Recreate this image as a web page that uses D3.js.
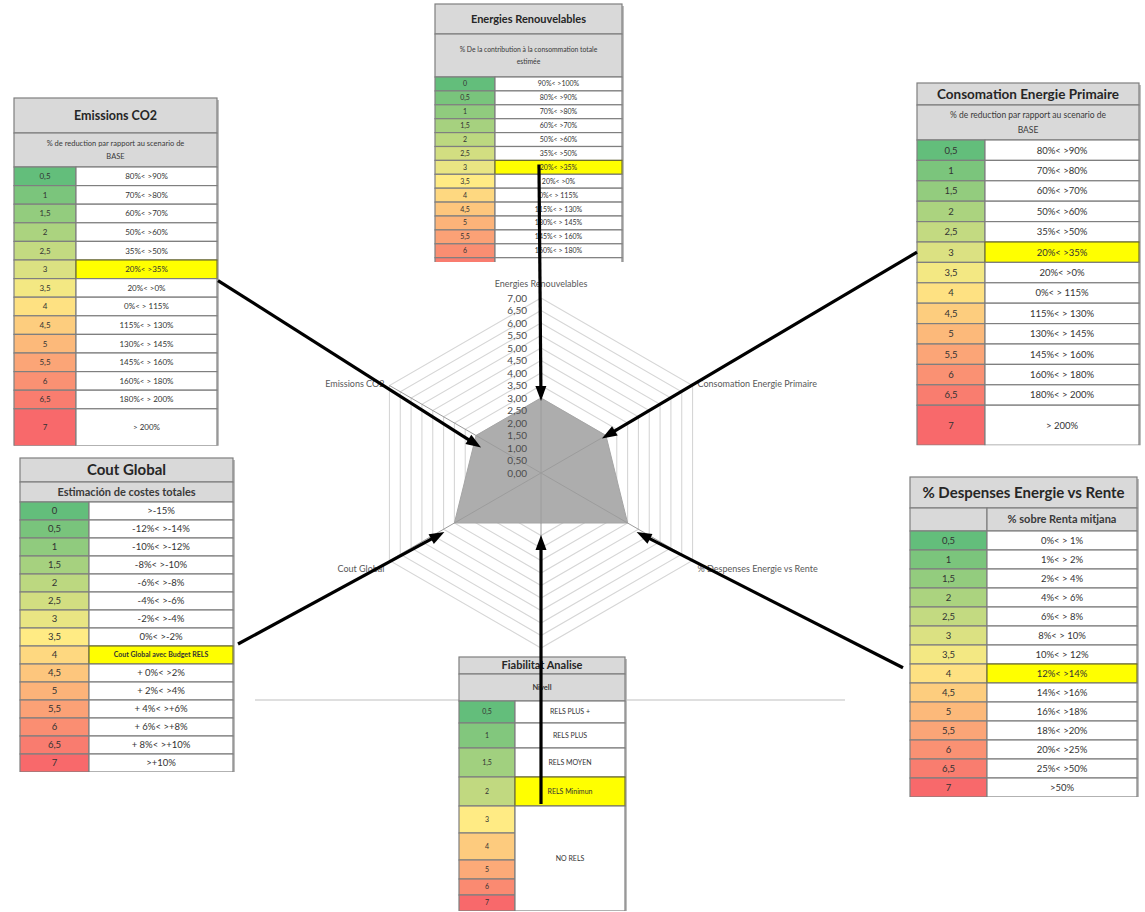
<!DOCTYPE html>
<html>
<head>
<meta charset="utf-8">
<script src="https://cdn.jsdelivr.net/npm/d3@7"></script>
<style>
  html, body { margin: 0; padding: 0; background: #ffffff; }
  svg { display: block; font-family: Lato, "Open Sans", "Liberation Sans", sans-serif; }
</style>
</head>
<body>
<svg id="chart" width="1145" height="912"></svg>
<script>
// ---- Radar axes, clockwise from the top ----
const axisNames = [
  "Energies Renouvelables",
  "Consomation Energie Primaire",
  "% Despenses Energie vs Rente",
  "Fiabilitat Analise",
  "Cout Global",
  "Emissions CO2"
];
const axisScores = [3, 3, 4, 2, 4, 3];
const radarTicks = [0, 0.5, 1, 1.5, 2, 2.5, 3, 3.5, 4, 4.5, 5, 5.5, 6, 6.5, 7];

// ---- Scoring grids, one per axis ----
const energiesScores = [0, 0.5, 1, 1.5, 2, 2.5, 3, 3.5, 4, 4.5, 5, 5.5, 6, 6.5, 7];
const energiesRanges = ["90%< >100%", "80%< >90%", "70%< >80%", "60%< >70%", "50%< >60%", "35%< >50%",
  "20%< >35%", "20%< >0%", "0%< > 115%", "115%< > 130%", "130%< > 145%", "145%< > 160%",
  "160%< > 180%", "180%< > 200%", "> 200%"];

const emissionsScores = [0.5, 1, 1.5, 2, 2.5, 3, 3.5, 4, 4.5, 5, 5.5, 6, 6.5, 7];
const emissionsRanges = ["80%< >90%", "70%< >80%", "60%< >70%", "50%< >60%", "35%< >50%", "20%< >35%",
  "20%< >0%", "0%< > 115%", "115%< > 130%", "130%< > 145%", "145%< > 160%", "160%< > 180%",
  "180%< > 200%", "> 200%"];

const consoScores = [0.5, 1, 1.5, 2, 2.5, 3, 3.5, 4, 4.5, 5, 5.5, 6, 6.5, 7];
const consoRanges = ["80%< >90%", "70%< >80%", "60%< >70%", "50%< >60%", "35%< >50%", "20%< >35%",
  "20%< >0%", "0%< > 115%", "115%< > 130%", "130%< > 145%", "145%< > 160%", "160%< > 180%",
  "180%< > 200%", "> 200%"];

const coutScores = [0, 0.5, 1, 1.5, 2, 2.5, 3, 3.5, 4, 4.5, 5, 5.5, 6, 6.5, 7];
const coutRanges = [">-15%", "-12%< >-14%", "-10%< >-12%", "-8%< >-10%", "-6%< >-8%", "-4%< >-6%",
  "-2%< >-4%", "0%< >-2%", "Cout Global avec Budget RELS", "+ 0%< >2%", "+ 2%< >4%", "+ 4%< >+6%",
  "+ 6%< >+8%", "+ 8%< >+10%", ">+10%"];

const despensesScores = [0.5, 1, 1.5, 2, 2.5, 3, 3.5, 4, 4.5, 5, 5.5, 6, 6.5, 7];
const despensesRanges = ["0%< > 1%", "1%< > 2%", "2%< > 4%", "4%< > 6%", "6%< > 8%", "8%< > 10%",
  "10%< > 12%", "12%< >14%", "14%< >16%", "16%< >18%", "18%< >20%", "20%< >25%", "25%< >50%", ">50%"];

const fiabScores = [0.5, 1, 1.5, 2, 3, 4, 5, 6, 7];
const fiabRanges = ["RELS PLUS +", "RELS PLUS", "RELS MOYEN", "RELS Minimun",
  "NO RELS", "NO RELS", "NO RELS", "NO RELS", "NO RELS"];

// ---- Layout ----
const cx = 541, cy = 473, outerR = 175;
const svg = d3.select("#chart");
const fmtComma = v => String(v).replace(".", ",");
const fmt2 = d3.formatLocale({ decimal: ",", thousands: ".", grouping: [3], currency: ["", "€"] }).format(".2f");

const rScale = d3.scaleLinear().domain([0, 7]).range([0, outerR]);
const nAxes = axisNames.length;
const angleOf = i => i * 2 * Math.PI / nAxes;
const pt = (i, v) => [cx + rScale(v) * Math.sin(angleOf(i)), cy - rScale(v) * Math.cos(angleOf(i))];

// Chart-area bottom rule
svg.append("line")
  .attr("x1", 255).attr("x2", 845).attr("y1", 700).attr("y2", 700)
  .attr("stroke", "#d4d4d4").attr("stroke-width", 1.5);

// ---- Radar ----
const radar = svg.append("g");
const ringLine = d3.line();
radar.selectAll("path.ring")
  .data(radarTicks.filter(t => t > 0))
  .join("path")
  .attr("class", "ring")
  .attr("d", t => ringLine(d3.range(nAxes).map(i => pt(i, t))) + "Z")
  .attr("fill", "none")
  .attr("stroke", "#d6d6d6")
  .attr("stroke-width", 1.1);

radar.append("path")
  .attr("d", ringLine(axisScores.map((v, i) => pt(i, v))) + "Z")
  .attr("fill", "#adadad")
  .attr("stroke", "#a5a5a5")
  .attr("stroke-width", 1);

radar.selectAll("line.spoke")
  .data(d3.range(nAxes))
  .join("line")
  .attr("class", "spoke")
  .attr("x1", cx).attr("y1", cy)
  .attr("x2", i => pt(i, 7)[0]).attr("y2", i => pt(i, 7)[1])
  .attr("stroke", "#9c9c9c").attr("stroke-width", 1);

radar.selectAll("text.tick")
  .data(radarTicks)
  .join("text")
  .attr("class", "tick")
  .attr("x", cx - 14)
  .attr("y", t => cy - rScale(t))
  .attr("dy", "0.35em")
  .attr("text-anchor", "end")
  .attr("font-size", 10)
  .attr("fill", "#4d4d4d")
  .text(t => fmt2(t));

// Axis captions; the bottom one sits under the reliability table, whose title names it
const labelPlacement = [
  { dx: 0, dy: -14, anchor: "middle" },
  { dx: 5, dy: -2, anchor: "start" },
  { dx: 5, dy: 8, anchor: "start" },
  null,
  { dx: -5, dy: 8, anchor: "end" },
  { dx: -5, dy: -2, anchor: "end" }
];
radar.selectAll("text.axis")
  .data(axisNames.map((name, i) => ({ name, i })).filter(d => labelPlacement[d.i]))
  .join("text")
  .attr("class", "axis")
  .attr("x", d => pt(d.i, 7)[0] + labelPlacement[d.i].dx)
  .attr("y", d => pt(d.i, 7)[1] + labelPlacement[d.i].dy)
  .attr("dy", "0.35em")
  .attr("text-anchor", d => labelPlacement[d.i].anchor)
  .attr("font-size", 9)
  .attr("fill", "#595959")
  .text(d => d.name);

// ---- Scoring tables ----
const tables = [
  { axis: 0, title: "Energies Renouvelables", subtitle: ["% De la contribution à la consommation totale", "estimée"],
    scores: energiesScores, ranges: energiesRanges,
    x: 435, y: 4, w: 187, scoreW: 60, titleH: 30, subH: 43, rowH: 13.9, clipBottom: 262,
    titleSize: 11, subSize: 6.8, subBold: false, rowSize: 7,
    start: { fx: 0.556, fy: 0.3, ox: 0, oy: 0 }, tip: [0, 3] },
  { axis: 1, title: "Consomation Energie Primaire", subtitle: ["% de reduction par rapport au  scenario de", "BASE"],
    scores: consoScores, ranges: consoRanges,
    x: 917, y: 83, w: 222, scoreW: 68, titleH: 22, subH: 35, rowH: 20.4, lastRowH: 40,
    titleSize: 13.5, subSize: 8.5, subBold: false, rowSize: 9.5,
    start: { fx: 0, fy: 0.5, ox: 0, oy: 0 }, tip: [-4, 3] },
  { axis: 2, title: "% Despenses Energie vs Rente", subtitle: ["% sobre Renta mitjana"], subRightOnly: true,
    scores: despensesScores, ranges: despensesRanges,
    x: 910, y: 477, w: 227, scoreW: 77, titleH: 31, subH: 23, rowH: 19,
    titleSize: 15, subSize: 11, subBold: true, rowSize: 9.5,
    start: { fx: 0, fy: 0.2, ox: -7, oy: 0 }, tip: [9, 9] },
  { axis: 3, title: "Fiabilitat Analise", subtitle: ["Nivell"],
    scores: fiabScores, ranges: fiabRanges,
    x: 459, y: 657, w: 166, scoreW: 56, titleH: 17, subH: 27, rowHeights: [22, 25, 29, 29, 27, 27, 19, 16, 16],
    titleSize: 11, subSize: 7.5, subBold: true, rowSize: 7,
    start: { fx: 0.494, fy: 1, ox: 0, oy: -2 }, tip: [0, 12] },
  { axis: 4, title: "Cout Global", subtitle: ["Estimación de costes totales"],
    scores: coutScores, ranges: coutRanges,
    x: 20, y: 458, w: 213, scoreW: 69, titleH: 24, subH: 20, rowH: 18,
    titleSize: 15, subSize: 11, subBold: true, rowSize: 9.5, highlightSize: 7, highlightBold: true,
    start: { fx: 1, fy: 0, ox: 5, oy: -2 }, tip: [-10, 9] },
  { axis: 5, title: "Emissions CO2", subtitle: ["% de reduction par rapport au  scenario de", "BASE"],
    scores: emissionsScores, ranges: emissionsRanges,
    x: 14, y: 98, w: 203, scoreW: 62, titleH: 35, subH: 34, rowH: 18.6, lastRowH: 37,
    titleSize: 12.5, subSize: 7.5, subBold: false, rowSize: 8,
    start: { fx: 1, fy: 1, ox: 1, oy: 2 }, tip: [5, 12] }
];

const borderCol = "#7f7f7f";
const headerFill = "#d9d9d9";
const arrowJobs = [];

tables.forEach((t, ti) => {
  const n = t.scores.length;
  const heights = t.rowHeights ? t.rowHeights
    : t.scores.map((s, i) => (i === n - 1 && t.lastRowH) ? t.lastRowH : t.rowH);
  const rowsTop = t.y + t.titleH + t.subH;
  const tops = [];
  heights.reduce((acc, h, i) => { tops[i] = acc; return acc + h; }, rowsTop);
  const bottom = t.clipBottom || (rowsTop + d3.sum(heights));
  // rows that start inside the visible frame; captions only where the row centre shows
  const rowShown = i => tops[i] < bottom;
  const textShown = i => tops[i] + heights[i] / 2 < bottom;

  const color = d3.scaleLinear()
    .domain([d3.min(t.scores), d3.median(t.scores), d3.max(t.scores)])
    .range(["#63BE7B", "#FFEB84", "#F8696B"]);

  const clipId = "clip" + ti;
  svg.append("clipPath").attr("id", clipId)
    .append("rect").attr("x", t.x - 1).attr("y", t.y - 1).attr("width", t.w + 3).attr("height", bottom - t.y + 1);

  const g = svg.append("g").attr("clip-path", `url(#${clipId})`);

  // soft right-hand shadow
  g.append("rect")
    .attr("x", t.x + t.w).attr("y", t.y + 2).attr("width", 2.5).attr("height", bottom - t.y)
    .attr("fill", "#bdbdbd");

  // title row
  g.append("rect")
    .attr("x", t.x).attr("y", t.y).attr("width", t.w).attr("height", t.titleH)
    .attr("fill", headerFill).attr("stroke", borderCol).attr("stroke-width", 1.2);
  g.append("text")
    .attr("x", t.x + t.w / 2).attr("y", t.y + t.titleH / 2).attr("dy", "0.35em")
    .attr("text-anchor", "middle").attr("font-weight", "bold")
    .attr("font-size", t.titleSize).attr("fill", "#262626")
    .text(t.title);

  // subtitle row
  const subY = t.y + t.titleH;
  if (t.subRightOnly) {
    g.append("rect").attr("x", t.x).attr("y", subY).attr("width", t.scoreW).attr("height", t.subH)
      .attr("fill", headerFill).attr("stroke", borderCol).attr("stroke-width", 1.2);
    g.append("rect").attr("x", t.x + t.scoreW).attr("y", subY).attr("width", t.w - t.scoreW).attr("height", t.subH)
      .attr("fill", headerFill).attr("stroke", borderCol).attr("stroke-width", 1.2);
  } else {
    g.append("rect").attr("x", t.x).attr("y", subY).attr("width", t.w).attr("height", t.subH)
      .attr("fill", headerFill).attr("stroke", borderCol).attr("stroke-width", 1.2);
  }
  const subCx = t.subRightOnly ? t.x + t.scoreW + (t.w - t.scoreW) / 2 : t.x + t.w / 2;
  const lineGap = t.subSize * 1.75;
  const subText = g.append("text")
    .attr("text-anchor", "middle")
    .attr("font-size", t.subSize)
    .attr("font-weight", t.subBold ? "bold" : "normal")
    .attr("fill", "#3a3a3a");
  t.subtitle.forEach((line, li) => {
    subText.append("tspan")
      .attr("x", subCx)
      .attr("y", subY + t.subH / 2 + (li - (t.subtitle.length - 1) / 2) * lineGap)
      .attr("dy", "0.35em")
      .text(line);
  });

  // score column
  t.scores.forEach((s, i) => {
    if (!rowShown(i)) return;
    g.append("rect")
      .attr("x", t.x).attr("y", tops[i]).attr("width", t.scoreW).attr("height", heights[i])
      .attr("fill", color(s)).attr("stroke", borderCol).attr("stroke-width", 1.2);
    if (textShown(i)) {
      g.append("text")
        .attr("x", t.x + t.scoreW / 2).attr("y", tops[i] + heights[i] / 2).attr("dy", "0.35em")
        .attr("text-anchor", "middle").attr("font-size", t.rowSize).attr("fill", "#333")
        .text(fmtComma(s));
    }
  });

  // range column, merging consecutive identical entries
  const target = axisScores[t.axis];
  const groups = [];
  t.ranges.forEach((r, i) => {
    const last = groups[groups.length - 1];
    if (last && last.text === r) { last.end = i; } else { groups.push({ text: r, start: i, end: i }); }
  });
  groups.forEach(gr => {
    if (!rowShown(gr.start)) return;
    const y0 = tops[gr.start];
    const h = tops[gr.end] + heights[gr.end] - y0;
    const hl = d3.range(gr.start, gr.end + 1).some(i => t.scores[i] === target);
    g.append("rect")
      .attr("x", t.x + t.scoreW).attr("y", y0).attr("width", t.w - t.scoreW).attr("height", h)
      .attr("fill", hl ? "#ffff00" : "#ffffff")
      .attr("stroke", hl ? "#6e6e2a" : borderCol).attr("stroke-width", 1.2);
    if (y0 + h / 2 < bottom) {
      g.append("text")
        .attr("x", t.x + t.scoreW + (t.w - t.scoreW) / 2).attr("y", y0 + h / 2).attr("dy", "0.35em")
        .attr("text-anchor", "middle")
        .attr("font-size", hl && t.highlightSize ? t.highlightSize : t.rowSize)
        .attr("font-weight", hl && t.highlightBold ? "bold" : "normal")
        .attr("fill", "#333")
        .text(gr.text);
    }
  });

  // arrow from the selected row to its radar vertex
  const hi = t.scores.indexOf(target);
  const sx = t.x + t.w * t.start.fx + t.start.ox;
  const sy = tops[hi] + heights[hi] * t.start.fy + t.start.oy;
  const v = pt(t.axis, target);
  arrowJobs.push({ from: [sx, sy], to: [v[0] + t.tip[0], v[1] + t.tip[1]] });
});

// ---- Arrows ----
const arrows = svg.append("g");
arrowJobs.forEach(a => {
  const dx = a.to[0] - a.from[0], dy = a.to[1] - a.from[1];
  const len = Math.hypot(dx, dy);
  const ux = dx / len, uy = dy / len;
  const headL = 15, headW = 11;
  const bx = a.to[0] - ux * headL, by = a.to[1] - uy * headL;
  arrows.append("line")
    .attr("x1", a.from[0]).attr("y1", a.from[1])
    .attr("x2", bx + ux * 2).attr("y2", by + uy * 2)
    .attr("stroke", "#000").attr("stroke-width", 3.2);
  arrows.append("path")
    .attr("d", d3.line()([
      a.to,
      [bx - uy * headW / 2, by + ux * headW / 2],
      [bx + uy * headW / 2, by - ux * headW / 2]
    ]) + "Z")
    .attr("fill", "#000");
});
</script>
</body>
</html>
